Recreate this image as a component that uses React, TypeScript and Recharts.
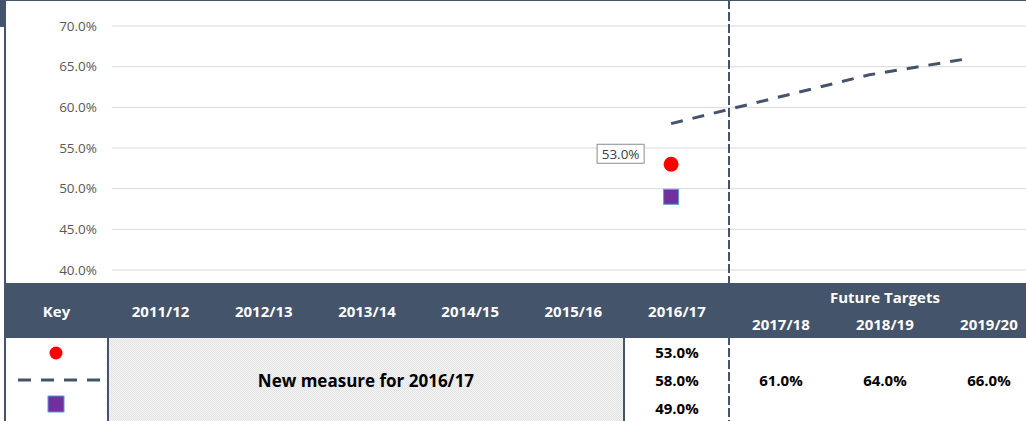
import React from 'react';
import { ComposedChart, Line, Scatter, XAxis, YAxis, CartesianGrid } from 'recharts';

const years = ['2011/12', '2012/13', '2013/14', '2014/15', '2015/16', '2016/17', '2017/18', '2018/19', '2019/20'];
const futureYears = ['2017/18', '2018/19', '2019/20'];
const actual = [null, null, null, null, null, 53, null, null, null];
const target = [null, null, null, null, null, 58, 61, 64, 66];
const comparator = [null, null, null, null, null, 49, null, null, null];
const yTicks = [40, 45, 50, 55, 60, 65, 70];

const DARK = '#44546a';
const KEY_W = 105;
const COL_W = 103.2;
const FUT_W = 104;

const rows = years.map((year, i) => ({ idx: i, year, actual: actual[i], target: target[i], comparator: comparator[i] }));

const pct = (v: number) => `${v.toFixed(1)}%`;

const ActualDot = (props: any) => {
  const { cx, cy, payload } = props;
  if (payload?.actual == null || cy == null || isNaN(cy)) return <g />;
  return (
    <g>
      <rect x={cx - 74} y={cy - 20} width={47} height={19} fill="#fff" stroke="#8c8c8c" strokeWidth={1} />
      <text x={cx - 50.5} y={cy - 5.5} textAnchor="middle" fontSize={13.5} fill="#404040" fontFamily="Open Sans">
        {pct(payload.actual)}
      </text>
      <circle cx={cx} cy={cy} r={7.5} fill="#ff0000" />
    </g>
  );
};

const SquareDot = (props: any) => {
  const { cx, cy, payload } = props;
  if (payload?.comparator == null || cy == null || isNaN(cy)) return <g />;
  return <rect x={cx - 7.5} y={cy - 7.5} width={15} height={15} fill="#7030a0" stroke="#5b9bd5" strokeWidth={1} />;
};

const headCell: React.CSSProperties = {
  color: '#fff',
  fontWeight: 700,
  fontSize: 15,
  display: 'flex',
  alignItems: 'center',
  justifyContent: 'center',
};

const bodyCell: React.CSSProperties = {
  color: '#000',
  fontWeight: 700,
  fontSize: 15,
  display: 'flex',
  alignItems: 'center',
  justifyContent: 'center',
};

const cols = `${KEY_W}px repeat(5, ${COL_W}px) ${FUT_W}px repeat(3, ${FUT_W}px)`;
const idx1617 = years.indexOf('2016/17');

export default function App() {
  return (
    <div
      style={{
        position: 'absolute',
        left: 0,
        top: 0,
        width: 1026,
        height: 421,
        overflow: 'hidden',
        background: '#fff',
        fontFamily: '"Open Sans", sans-serif',
      }}
    >
      <div style={{ position: 'absolute', left: 0, top: 0, width: 1026, height: 1, background: DARK }} />
      <div style={{ position: 'absolute', left: 0, top: 0, width: 6, height: 27, background: DARK }} />
      <div style={{ position: 'absolute', left: 4, top: 0, width: 2, height: 421, background: DARK }} />

      <div style={{ position: 'absolute', left: 0, top: 0 }}>
        <ComposedChart width={1026} height={283} data={rows} margin={{ top: 26, right: 0, bottom: 13, left: 0 }}>
          <CartesianGrid vertical={false} stroke="#d9d9d9" />
          <XAxis dataKey="idx" type="number" hide domain={[-0.64, 8.58]} allowDataOverflow />
          <YAxis
            domain={[40, 70]}
            ticks={yTicks}
            width={112}
            axisLine={false}
            tickLine={false}
            tickSize={0}
            tickMargin={15}
            tickFormatter={pct}
            tick={{ fill: '#595959', fontSize: 13.5, fontFamily: 'Open Sans' }}
          />
          <Line
            dataKey="target"
            stroke={DARK}
            strokeWidth={3}
            strokeDasharray="12 10"
            dot={false}
            isAnimationActive={false}
          />
          <Scatter dataKey="actual" shape={ActualDot} isAnimationActive={false} />
          <Scatter dataKey="comparator" shape={SquareDot} isAnimationActive={false} />
        </ComposedChart>
      </div>

      {/* table header */}
      <div
        style={{
          position: 'absolute',
          left: 4,
          top: 283,
          height: 55,
          width: 1040,
          background: DARK,
          display: 'grid',
          gridTemplateColumns: cols,
          gridTemplateRows: '27.5px 27.5px',
        }}
      >
        <div style={{ ...headCell, gridColumn: '1', gridRow: '1 / 3' }}>Key</div>
        {years.slice(0, idx1617 + 1).map((y, i) => (
          <div key={y} style={{ ...headCell, gridColumn: `${i + 2}`, gridRow: '1 / 3' }}>
            {y}
          </div>
        ))}
        <div style={{ ...headCell, gridColumn: `${idx1617 + 3} / span 3`, gridRow: '1' }}>Future Targets</div>
        {futureYears.map((y, i) => (
          <div key={y} style={{ ...headCell, gridColumn: `${idx1617 + 3 + i}`, gridRow: '2' }}>
            {y}
          </div>
        ))}
      </div>

      {/* table body */}
      <div
        style={{
          position: 'absolute',
          left: 4,
          top: 338,
          width: 1040,
          height: 84,
          display: 'grid',
          gridTemplateColumns: cols,
          gridTemplateRows: '28px 28px 28px',
        }}
      >
        <div
          style={{
            gridColumn: '1',
            gridRow: '1 / 4',
            boxSizing: 'border-box',
            borderLeft: `2px solid ${DARK}`,
            borderRight: `2px solid ${DARK}`,
            display: 'grid',
            gridTemplateRows: '28px 28px 28px',
          }}
        >
          <svg width={101} height={28}>
            <circle cx={50} cy={15} r={6.5} fill="#ff0000" />
          </svg>
          <svg width={101} height={28}>
            <line x1={12} x2={94} y1={14} y2={14} stroke={DARK} strokeWidth={3} strokeDasharray="13 10" />
          </svg>
          <svg width={101} height={28}>
            <rect x={42} y={2} width={16} height={16} fill="#7030a0" stroke="#5b9bd5" strokeWidth={1} />
          </svg>
        </div>
        <div
          style={{
            ...bodyCell,
            fontSize: 17,
            gridColumn: `2 / span ${idx1617}`,
            gridRow: '1 / 4',
            boxSizing: 'border-box',
            borderRight: `2px solid ${DARK}`,
            background: 'repeating-conic-gradient(#e4e4e4 0 25%, #f3f3f3 0 50%) 0 0 / 2px 2px',
          }}
        >
          New measure for 2016/17
        </div>
        <div style={{ ...bodyCell, gridColumn: `${idx1617 + 2}`, gridRow: '1' }}>{pct(actual[idx1617] as number)}</div>
        <div style={{ ...bodyCell, gridColumn: `${idx1617 + 2}`, gridRow: '2' }}>{pct(target[idx1617] as number)}</div>
        <div style={{ ...bodyCell, gridColumn: `${idx1617 + 2}`, gridRow: '3' }}>{pct(comparator[idx1617] as number)}</div>
        {futureYears.map((y, i) => (
          <div key={y} style={{ ...bodyCell, gridColumn: `${idx1617 + 3 + i}`, gridRow: '2' }}>
            {pct(target[years.indexOf(y)] as number)}
          </div>
        ))}
      </div>

      {/* dashed divider between actuals and future targets */}
      <div
        style={{
          position: 'absolute',
          left: 4 + KEY_W + 5 * COL_W + FUT_W - 1,
          top: 0,
          width: 2,
          height: 421,
          background: `repeating-linear-gradient(to bottom, ${DARK} 0 9px, transparent 9px 12px)`,
        }}
      />
    </div>
  );
}
